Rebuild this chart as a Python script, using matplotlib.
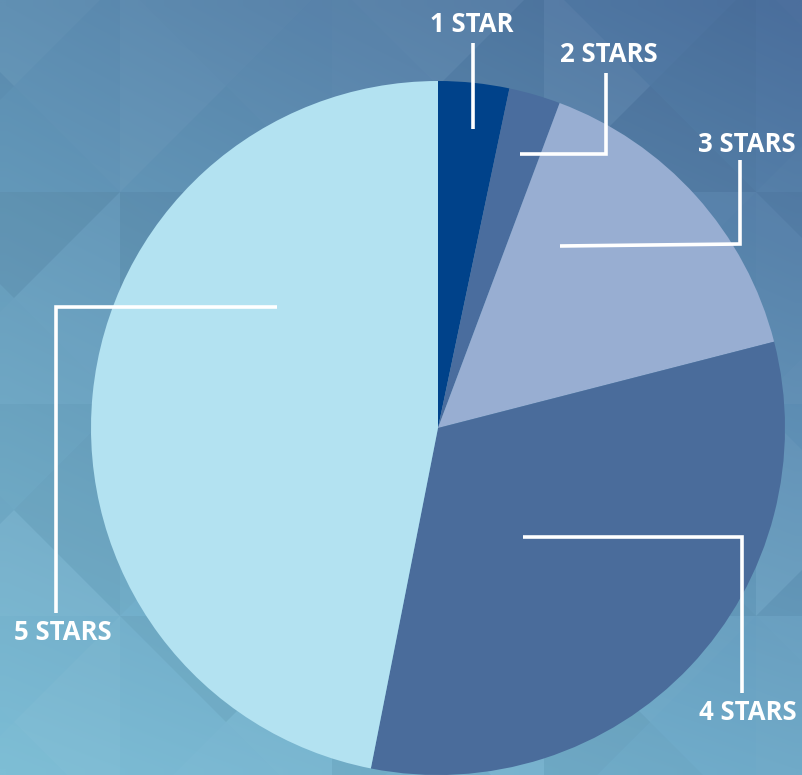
import numpy as np
import matplotlib.pyplot as plt
from matplotlib.colors import to_rgb
from matplotlib.patches import Polygon

# 数据
labels = ['1 STAR', '2 STARS', '3 STARS', '4 STARS', '5 STARS']
shares = [3.3, 2.4, 15.3, 32.1, 46.9]
colors = ['#00428a', '#4a6d9e', '#98aed2', '#4a6c9b', '#b3e2f1']

W, H = 802, 775


def fy(py):
    # 像素坐标(上为0) -> 数据坐标
    return H - py


fig = plt.figure(figsize=(W / 100, H / 100), dpi=100)
ax = fig.add_axes([0, 0, 1, 1])

# 背景渐变
tl, tr, bl, br = [np.array(to_rgb(c)) for c in ['#5b8cb0', '#4a6e9c', '#7cbdd5', '#6ea9c8']]
u = np.linspace(0, 1, 64)[None, :, None]
v = np.linspace(0, 1, 64)[:, None, None]
grad = (1 - v) * ((1 - u) * tl + u * tr) + v * ((1 - u) * bl + u * br)
ax.imshow(grad, extent=(0, W, 0, H), origin='upper', interpolation='bilinear', zorder=0)

# 背景三角形纹理
shade = [0.04, -0.025, 0.015, -0.04, 0.0, 0.03, -0.015, 0.025, -0.035, 0.01, 0.045]
step = 212
xs = np.arange(-92, W + step, step)
ys = np.arange(-20, H + step, step)
for i, x0 in enumerate(xs):
    for j, y0 in enumerate(ys):
        cx, cy = x0 + step / 2, y0 + step / 2
        corners = [(x0, y0), (x0 + step, y0), (x0 + step, y0 + step), (x0, y0 + step)]
        for k in range(4):
            a = shade[(i * 5 + j * 3 + k * 2) % len(shade)]
            p1, p2 = corners[k], corners[(k + 1) % 4]
            tri = [(p1[0], fy(p1[1])), (p2[0], fy(p2[1])), (cx, fy(cy))]
            ax.add_patch(Polygon(tri, closed=True, lw=0,
                                 facecolor='white' if a > 0 else 'black',
                                 alpha=abs(a), zorder=1))

# 饼图
wedges, _ = ax.pie(shares, colors=colors, startangle=90, counterclock=False,
                   center=(438, fy(428)), radius=347,
                   wedgeprops=dict(linewidth=0))
for w in wedges:
    w.set_zorder(2)

# 引导线
lw = 2.6
leaders = [
    [(473, 43), (473, 129)],
    [(606, 73), (606, 154), (520, 154)],
    [(740, 160), (740, 244), (560, 246)],
    [(742, 693), (742, 537), (523, 537)],
    [(56, 613), (56, 307), (277, 307)],
]
for pts in leaders:
    ax.plot([p[0] for p in pts], [fy(p[1]) for p in pts], color='white', lw=lw,
            solid_joinstyle='miter', solid_capstyle='butt', zorder=3)

# 标签
label_pos = [(472, 24), (609, 54), (747, 145), (748, 712), (63, 633)]
for lab, (x, y) in zip(labels, label_pos):
    ax.text(x, fy(y), lab, color='white', fontsize=18.5, fontweight='bold',
            family=['Open Sans', 'DejaVu Sans'], ha='center', va='center', zorder=4)

ax.set_xlim(0, W)
ax.set_ylim(0, H)
ax.set_aspect('auto')
ax.axis('off')

fig.savefig('out.png', dpi=100)
